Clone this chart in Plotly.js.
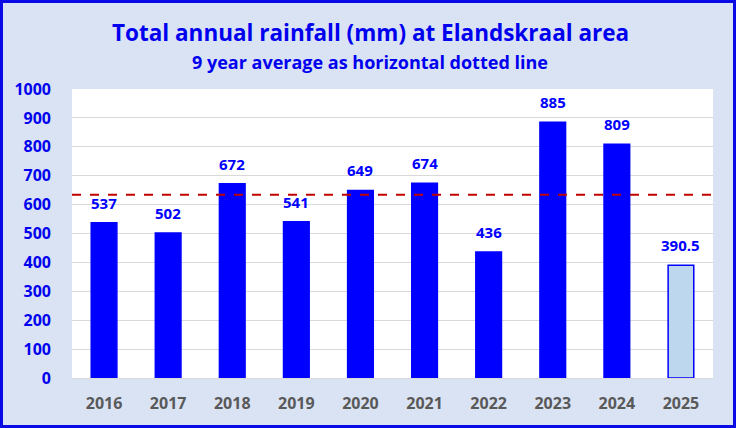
<!DOCTYPE html>
<html>
<head>
<meta charset="utf-8">
<script src="https://cdn.plot.ly/plotly-3.0.1.min.js"></script>
<style>
html,body{margin:0;padding:0;background:#dae3f3;}
#chart{width:730px;height:422px;border:3px solid #0a0ae6;}
</style>
</head>
<body>
<div id="chart"></div>
<script>
const years = ['2016','2017','2018','2019','2020','2021','2022','2023','2024','2025'];
const rainfall = [537, 502, 672, 541, 649, 674, 436, 885, 809, 390.5];
const yTicks = [0,100,200,300,400,500,600,700,800,900,1000];
const titleText = 'Total annual rainfall (mm) at Elandskraal area';
const subtitleText = '9 year average as horizontal dotted line';

const fullYears = rainfall.slice(0, 9);
const average = fullYears.reduce((a, b) => a + b, 0) / fullYears.length;

const barColors = years.map((y, i) => i === years.length - 1 ? '#bdd7ee' : '#0000ff');

const bars = {
  type: 'bar',
  x: years,
  y: rainfall,
  marker: {color: barColors, line: {color: '#0000ff', width: 1.5}},
  hoverinfo: 'x+y'
};

const W = 730, H = 422, L = 69, R = 20, T = 86, B = 47;
const plotH = H - T - B;
const plotW = W - L - R;
const paperY = px => 1 + (T - px) / plotH;
const paperX = px => (px - L) / plotW;

// category axis: annotation x given as category index
const valueLabels = years.map((yr, i) => ({
  x: i, y: rainfall[i], xref: 'x', yref: 'y',
  text: '<b>' + rainfall[i] + '</b>',
  showarrow: false, yanchor: 'bottom', yshift: 8,
  font: {family: 'Open Sans, sans-serif', size: 15, color: '#0000ff'}
}));

const titles = [
  {text: '<b>' + titleText + '</b>', xref: 'paper', yref: 'paper', x: paperX(367), y: paperY(30),
   xanchor: 'center', yanchor: 'middle', showarrow: false,
   font: {family: 'Open Sans, sans-serif', size: 22.5, color: '#0000ee'}},
  {text: '<b>' + subtitleText + '</b>', xref: 'paper', yref: 'paper', x: paperX(367), y: paperY(59),
   xanchor: 'center', yanchor: 'middle', showarrow: false,
   font: {family: 'Open Sans, sans-serif', size: 18, color: '#0000ee'}}
];

const layout = {
  width: W,
  height: H,
  margin: {l: L, r: R, t: T, b: B},
  paper_bgcolor: '#dae3f3',
  plot_bgcolor: '#ffffff',
  bargap: 0.6,
  showlegend: false,
  font: {family: 'Open Sans, sans-serif'},
  xaxis: {
    type: 'category',
    categoryorder: 'array',
    categoryarray: years,
    range: [-0.5, years.length - 0.5],
    showgrid: false,
    zeroline: false,
    tickfont: {family: 'Open Sans, sans-serif', size: 16, color: '#595959', weight: 'bold'},
    ticklabelstandoff: 14,
    fixedrange: true
  },
  yaxis: {
    range: [0, 1000],
    tickvals: yTicks,
    ticktext: yTicks.map(String),
    showgrid: true,
    gridcolor: '#d9d9d9',
    gridwidth: 1,
    zeroline: true,
    zerolinecolor: '#d9d9d9',
    tickfont: {family: 'Open Sans, sans-serif', size: 16, color: '#0000ee', weight: 'bold'},
    ticklabelstandoff: 20,
    fixedrange: true
  },
  annotations: titles.concat(valueLabels),
  shapes: [{
    type: 'line', xref: 'paper', yref: 'y',
    x0: 0, x1: 1, y0: average, y1: average,
    line: {color: '#c00000', width: 2, dash: 'dash'},
    layer: 'above'
  }]
};

Plotly.newPlot('chart', [bars], layout, {displayModeBar: false, staticPlot: true});
</script>
</body>
</html>
